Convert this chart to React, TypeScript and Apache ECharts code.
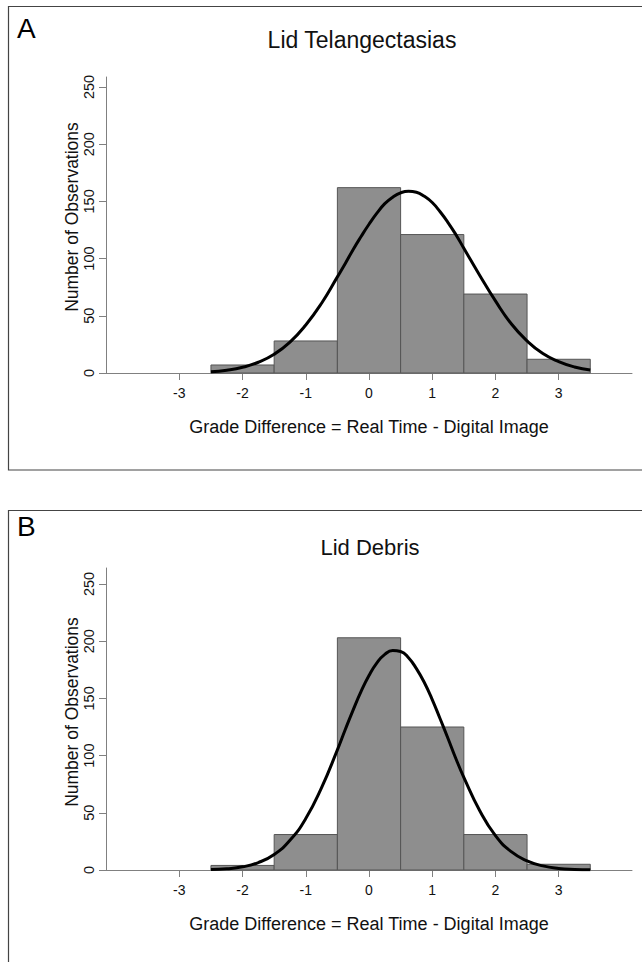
import React, { useEffect, useRef } from "react";
import * as echarts from "echarts";

// Histogram bin edges (grade difference), shared by both panels
const binLeft = [-2.5, -1.5, -0.5, 0.5, 1.5, 2.5];
const binRight = [-1.5, -0.5, 0.5, 1.5, 2.5, 3.5];

// Panel A: Lid Telangectasias – counts per bin
const telangCounts = [7, 28, 162, 121, 69, 12];
// Panel B: Lid Debris – counts per bin
const debrisCounts = [4, 31, 203, 125, 31, 5];

// Fitted curves
const curveX = [
  -2.5, -2.25, -2, -1.75, -1.5, -1.25, -1, -0.75, -0.5, -0.375, -0.25, -0.125,
  0, 0.125, 0.25, 0.375, 0.5, 0.625, 0.75, 0.875, 1, 1.125, 1.25, 1.375, 1.5,
  1.75, 2, 2.25, 2.5, 2.75, 3, 3.25, 3.5,
];
const telangCurve = [
  1.2, 2.5, 5, 9.4, 16.4, 27, 42, 61, 84, 95.7, 108, 119.3, 130, 139.7, 148,
  153.7, 157.5, 158.9, 158, 154.4, 149, 140.9, 131.5, 120.9, 109, 85.5, 63, 43,
  28, 17, 10, 5.3, 2.7,
];
const debrisCurve = [
  0.4, 1.1, 2.8, 6.5, 13.6, 26, 45, 72, 105, 122.8, 140, 156.1, 170, 181.1,
  188.5, 191.8, 191, 185.6, 176, 163.9, 149, 132.2, 115, 97.3, 81, 52, 30, 16,
  8, 3.6, 1.4, 0.5, 0.2,
];

const xTicks = [-3, -2, -1, 0, 1, 2, 3];
const yTicks = [0, 50, 100, 150, 200, 250];

const titles = ["Lid Telangectasias", "Lid Debris"];
const letters = ["A", "B"];
const xTitle = "Grade Difference = Real Time - Digital Image";
const yTitle = "Number of Observations";

const FONT = "'Liberation Sans', Arial, Helvetica, sans-serif";

export default function App() {
  const ref = useRef<HTMLDivElement>(null);

  useEffect(() => {
    if (!ref.current) return;
    const chart = echarts.init(ref.current, null, { renderer: "svg" });

    const grids = [
      { left: 106, top: 77, width: 526, height: 296 },
      { left: 106, top: 568, width: 526, height: 302 },
    ];
    const yMax = [258.7, 264];

    const xAxes = grids.map((_, i) => ({
      type: "value",
      gridIndex: i,
      min: -4.16,
      max: 4.16,
      name: xTitle,
      nameLocation: "middle",
      nameGap: 45,
      nameTextStyle: { fontFamily: FONT, fontSize: 18, color: "#111" },
      axisLine: { show: true, onZero: false, lineStyle: { color: "#808080", width: 1 } },
      axisTick: {
        show: true,
        length: 7,
        customValues: xTicks,
        lineStyle: { color: "#808080", width: 1 },
      },
      axisLabel: {
        show: true,
        customValues: xTicks,
        margin: 13,
        fontFamily: FONT,
        fontSize: 14,
        color: "#111",
      },
      splitLine: { show: false },
    }));

    const yAxes = grids.map((_, i) => ({
      type: "value",
      gridIndex: i,
      min: 0,
      max: yMax[i],
      axisLine: { show: true, onZero: false, lineStyle: { color: "#808080", width: 1 } },
      axisTick: {
        show: true,
        length: 7,
        customValues: yTicks,
        lineStyle: { color: "#808080", width: 1 },
      },
      axisLabel: {
        show: true,
        customValues: yTicks,
        rotate: 90,
        margin: 10,
        fontFamily: FONT,
        fontSize: 14.5,
        color: "#111",
      },
      splitLine: { show: false },
    }));

    const histData = (counts: number[]) =>
      counts.map((c, k) => [binLeft[k], binRight[k], c]);

    const renderBar = (params: any, api: any) => {
      const x0 = api.value(0);
      const x1 = api.value(1);
      const c = api.value(2);
      const pTop = api.coord([x0, c]);
      const pBot = api.coord([x1, 0]);
      return {
        type: "rect",
        shape: {
          x: pTop[0],
          y: pTop[1],
          width: pBot[0] - pTop[0],
          height: pBot[1] - pTop[1],
        },
        style: { fill: "#8e8e8e", stroke: "#555555", lineWidth: 1 },
      };
    };

    const countsList = [telangCounts, debrisCounts];
    const curves = [telangCurve, debrisCurve];

    const series: any[] = [];
    for (let i = 0; i < 2; i++) {
      series.push({
        type: "custom",
        xAxisIndex: i,
        yAxisIndex: i,
        renderItem: renderBar,
        encode: { x: [0, 1], y: 2 },
        data: histData(countsList[i]),
        z: 2,
      });
      series.push({
        type: "line",
        xAxisIndex: i,
        yAxisIndex: i,
        data: curveX.map((x, k) => [x, curves[i][k]]),
        smooth: 0.5,
        symbol: "none",
        lineStyle: { color: "#000", width: 3 },
        z: 3,
      });
    }

    const graphic: any[] = [
      {
        type: "rect",
        shape: { x: 8.5, y: 6.5, width: 645, height: 463.5 },
        style: { fill: "none", stroke: "#444", lineWidth: 1.2 },
        silent: true,
      },
      {
        type: "rect",
        shape: { x: 8.5, y: 510.5, width: 645, height: 470 },
        style: { fill: "none", stroke: "#444", lineWidth: 1.2 },
        silent: true,
      },
    ];
    const letterY = [28, 526];
    const titleX = [362, 370];
    const titleY = [40, 547];
    const titleSize = [23, 22];
    const yTitleY = [217, 712];
    for (let i = 0; i < 2; i++) {
      graphic.push({
        type: "text",
        x: 17,
        y: letterY[i],
        style: {
          text: letters[i],
          fontFamily: FONT,
          fontSize: 28,
          fill: "#000",
          align: "left",
          verticalAlign: "middle",
        },
      });
      graphic.push({
        type: "text",
        x: titleX[i],
        y: titleY[i],
        style: {
          text: titles[i],
          fontFamily: FONT,
          fontSize: titleSize[i],
          fill: "#111",
          align: "center",
          verticalAlign: "middle",
        },
      });
      graphic.push({
        type: "text",
        x: 72,
        y: yTitleY[i],
        rotation: Math.PI / 2,
        style: {
          text: yTitle,
          fontFamily: FONT,
          fontSize: 17.5,
          fill: "#111",
          align: "center",
          verticalAlign: "middle",
        },
      });
    }

    chart.setOption({
      animation: false,
      backgroundColor: "#ffffff",
      grid: grids,
      xAxis: xAxes,
      yAxis: yAxes,
      series,
      graphic,
    });

    return () => chart.dispose();
  }, []);

  return (
    <div
      ref={ref}
      style={{
        position: "absolute",
        left: 0,
        top: 0,
        width: 642,
        height: 962,
        background: "#fff",
      }}
    />
  );
}
